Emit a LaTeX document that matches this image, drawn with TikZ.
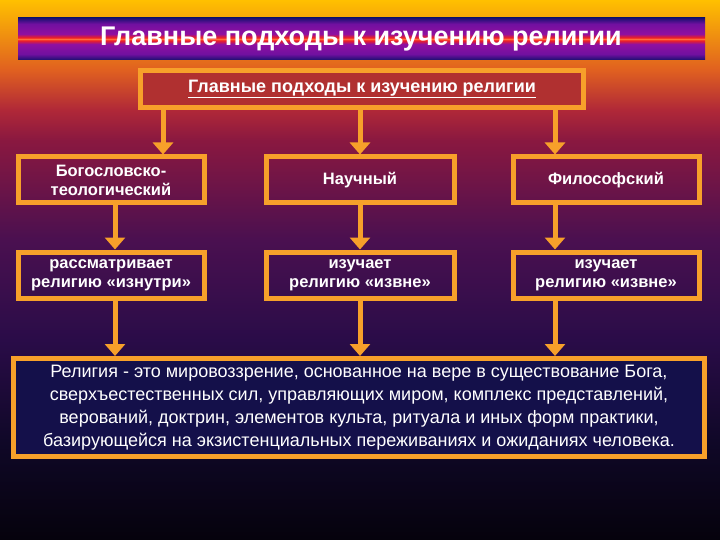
\documentclass[tikz,border=0pt]{standalone}
\usepackage{fontspec}
\setmainfont{Liberation Sans}
\usetikzlibrary{arrows.meta}
\definecolor{org}{HTML}{F7A02A}
\definecolor{navy}{HTML}{14104A}
\definecolor{topfill}{HTML}{B03030}
\definecolor{g0}{HTML}{05020C}
\definecolor{g1}{HTML}{100828}
\definecolor{g2}{HTML}{2A0C48}
\definecolor{g3}{HTML}{4A1050}
\definecolor{g4}{HTML}{8A1840}
\definecolor{g5}{HTML}{B02838}
\definecolor{g6}{HTML}{E06020}
\definecolor{g7}{HTML}{FFC000}
\definecolor{s0}{HTML}{1A1070}
\definecolor{s1}{HTML}{7010A0}
\definecolor{s2}{HTML}{9010A0}
\definecolor{s3}{HTML}{F02020}
\definecolor{s4}{HTML}{FF7040}
\pgfdeclareverticalshading{bgshade}{100bp}{
 color(0bp)=(g0); color(25bp)=(g0); color(34.26bp)=(g1); color(43.52bp)=(g2);
 color(52.78bp)=(g3); color(62.04bp)=(g4); color(64.81bp)=(g5);
 color(68.52bp)=(g6); color(75bp)=(g7); color(100bp)=(g7)}
\pgfdeclareverticalshading{barshade}{100bp}{
 color(0bp)=(s0); color(25bp)=(s0); color(31.9bp)=(s1); color(43.97bp)=(s2);
 color(48.28bp)=(s3); color(50bp)=(s4); color(51.72bp)=(s3);
 color(56.03bp)=(s2); color(68.1bp)=(s1); color(75bp)=(s0); color(100bp)=(s0)}
\begin{document}
\begin{tikzpicture}[x=1pt,y=-1pt,
 box/.style={draw=org,line width=5pt,text=white,font=\bfseries\fontsize{16.5}{19}\selectfont,align=center,inner sep=0pt},
 arr/.style={draw=org,line width=5pt,-{Triangle[length=12pt,width=20pt]}}]
\useasboundingbox (0,0) rectangle (720,540);
\shade[shading=bgshade] (0,0) rectangle (720,540);
\shade[shading=barshade] (18,18) rectangle (705,60);
\node[text=white,font=\bfseries\fontsize{27}{30}\selectfont] (title) at (361,39) {Главные подходы к изучению религии};
\node[box,minimum width=443pt,minimum height=37pt,fill=topfill] (top) at (362,89)
 {\fontsize{18}{21}\selectfont\underline{Главные подходы к изучению религии}};
\node[box,minimum width=186pt,minimum height=46pt] (a1) at (111,180) {Богословско-\\теологический};
\node[box,minimum width=188pt,minimum height=46pt] (b1) at (360,180) {Научный};
\node[box,minimum width=186pt,minimum height=46pt] (c1) at (606,180) {Философский};
\node[box,minimum width=186pt,minimum height=46pt] (a2) at (111,275) {рассматривает\\религию «изнутри»};
\node[box,minimum width=188pt,minimum height=46pt] (b2) at (360,275) {изучает\\религию «извне»};
\node[box,minimum width=186pt,minimum height=46pt] (c2) at (606,275) {изучает\\религию «извне»};
\fill[navy] (12,357) rectangle (706,458);
\node[box,minimum width=691pt,minimum height=98pt,font=\fontsize{18}{23}\selectfont] (d) at (359,407.5)
 {Религия - это мировоззрение, основанное на вере в существование Бога,\\сверхъестественных сил, управляющих миром, комплекс представлений,\\верований, доктрин, элементов культа, ритуала и иных форм практики,\\базирующейся на экзистенциальных переживаниях и ожиданиях человека.};
\draw[arr] (top.south -| 163,0) -- (a1.north -| 163,0);
\draw[arr] (top.south -| b1) -- (b1.north);
\draw[arr] (top.south -| 555,0) -- (c1.north -| 555,0);
\draw[arr] (a1.south -| 115,0) -- (a2.north -| 115,0);
\draw[arr] (b1.south) -- (b2.north);
\draw[arr] (c1.south -| 555,0) -- (c2.north -| 555,0);
\draw[arr] (a2.south -| 115,0) -- (d.north -| 115,0);
\draw[arr] (b2.south) -- (d.north -| b2);
\draw[arr] (c2.south -| 555,0) -- (d.north -| 555,0);
\end{tikzpicture}
\end{document}
